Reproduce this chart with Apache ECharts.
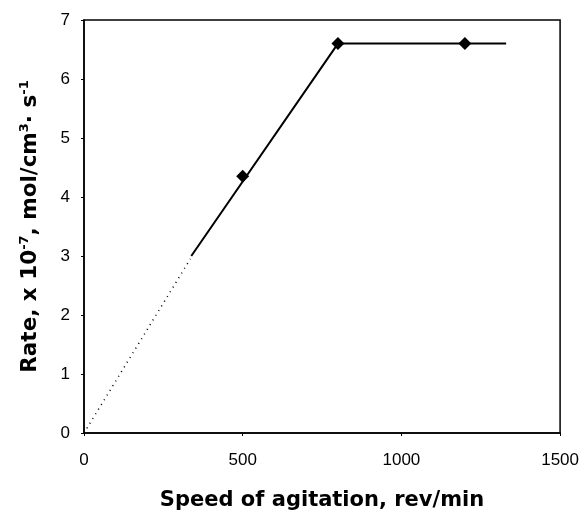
<!DOCTYPE html>
<html><head><meta charset="utf-8">
<script src="https://cdn.jsdelivr.net/npm/echarts@6/dist/echarts.min.js"></script>
<style>html,body{margin:0;padding:0;background:#fff}#c{width:582px;height:519px}</style>
</head><body><div id="c"></div>
<script>
// measured points
var speeds = [500, 800, 1200];
var rates = [4.35, 6.6, 6.6];
// solid fitted line (mass-transfer region and plateau)
var solidX = [338, 800, 1330];
var solidY = [3.0, 6.6, 6.6];
// dotted extrapolation to origin
var dotX = [0, 335];
var dotY = [0, 2.95];
var xTicks = [0, 500, 1000, 1500];
var yTicks = [0, 1, 2, 3, 4, 5, 6, 7];

function zip(a, b) { return a.map(function (v, i) { return [v, b[i]]; }); }

var chart = echarts.init(document.getElementById('c'));
var font = 'Liberation Sans, Arial, sans-serif';
var tfont = 'DejaVu Sans, Liberation Sans, sans-serif';
chart.setOption({
  animation: false,
  grid: { left: 84, right: 19, top: 20, bottom: 86, show: true, borderColor: '#000', borderWidth: 1.5, backgroundColor: 'transparent' },
  xAxis: {
    type: 'value', min: xTicks[0], max: xTicks[xTicks.length - 1], interval: xTicks[1] - xTicks[0],
    name: 'Speed of agitation, rev/min', nameLocation: 'middle', nameGap: 57,
    nameTextStyle: { fontFamily: tfont, fontSize: 21, fontWeight: 'bold', color: '#000' },
    axisLine: { show: true, lineStyle: { color: '#000', width: 1.5 } },
    axisTick: { show: true, length: 3, inside: false, lineStyle: { color: '#000' } },
    axisLabel: { fontFamily: font, fontSize: 17, color: '#000', margin: 19, formatter: function (v) { return String(v); } },
    splitLine: { show: false }
  },
  yAxis: {
    type: 'value', min: yTicks[0], max: yTicks[yTicks.length - 1], interval: yTicks[1] - yTicks[0],
    name: '{n|Rate, x 10}{s|-7}{n|, mol/cm}{s|3}{n|· s}{s|-1}',
    nameLocation: 'middle', nameGap: 42, nameRotate: 90,
    nameTextStyle: {
      fontFamily: tfont, fontSize: 21.5, fontWeight: 'bold', color: '#000',
      rich: {
        n: { fontFamily: tfont, fontSize: 21.5, fontWeight: 'bold', color: '#000' },
        s: { fontFamily: tfont, fontSize: 13, fontWeight: 'bold', color: '#000', verticalAlign: 'top', padding: [0, 0, 11, 0] }
      }
    },
    axisLine: { show: true, lineStyle: { color: '#000', width: 1.5 } },
    axisTick: { show: true, length: 3, lineStyle: { color: '#000' } },
    axisLabel: { fontFamily: font, fontSize: 17, color: '#000', margin: 14 },
    splitLine: { show: false }
  },
  series: [
    { type: 'line', data: zip(dotX, dotY), symbol: 'none', lineStyle: { color: '#000', width: 1.5, type: [1, 4.5] } },
    { type: 'line', data: zip(solidX, solidY), symbol: 'none', lineStyle: { color: '#000', width: 2 } },
    { type: 'scatter', data: zip(speeds, rates), symbol: 'diamond', symbolSize: 13, itemStyle: { color: '#000', opacity: 1 } }
  ]
});
</script></body></html>
